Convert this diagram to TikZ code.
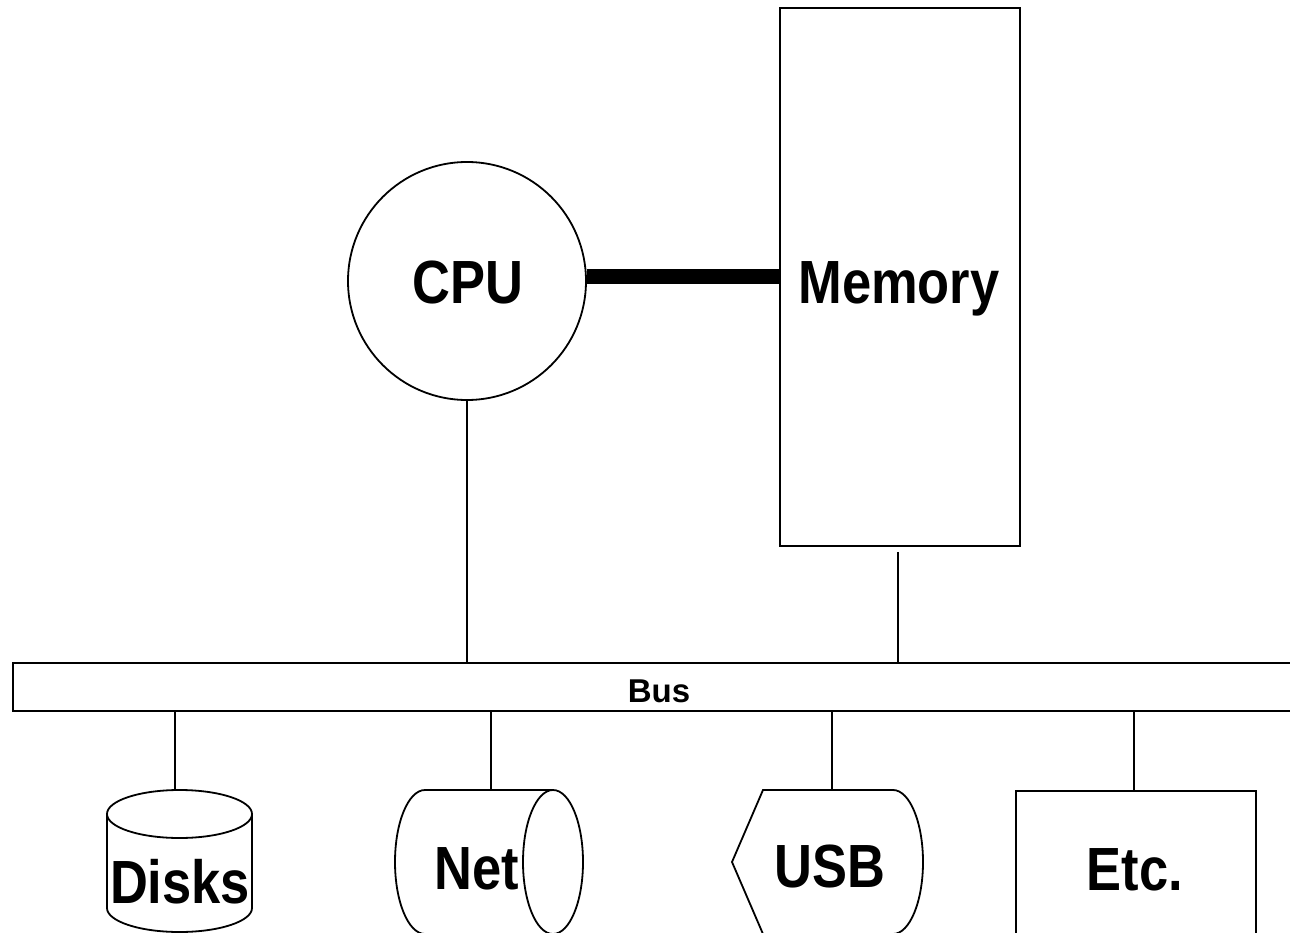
\documentclass[tikz,border=0pt]{standalone}
\usepackage{fontspec}
\newfontfamily\lblfont[FakeStretch=0.86]{Liberation Sans}
\newfontfamily\busfont{Liberation Sans}
\begin{document}
\begin{tikzpicture}[x=1pt,y=-1pt,line width=1.8pt,
  big/.style={font=\lblfont\bfseries\fontsize{61}{70}\selectfont,anchor=base,inner sep=0pt},
  box/.style={draw,rectangle,inner sep=0pt},
  wire/.style={line width=1.8pt}]
\clip (0,0) rectangle (1290,933);
\fill[white] (0,0) rectangle (1290,933);
% CPU and memory
\node[draw,circle,minimum size=238pt,inner sep=0pt] (cpu) at (467,281) {};
\node[box,minimum width=240pt,minimum height=538pt] (mem) at (900,277) {};
\node[big] (cputxt) at (468,304) {CPU};
\node[big] (memtxt) at (899,304) {Memory};
% bus
\node[box,minimum width=1300pt,minimum height=48pt,anchor=north west] (bus) at (12,662) {};
\node[font=\busfont\bfseries\fontsize{33}{38}\selectfont,anchor=base,inner sep=0pt] (bustxt) at (659,702) {Bus};
% Disks (vertical cylinder)
\draw (107,814) -- (107,908) arc[start angle=180,end angle=360,x radius=72.5,y radius=-24] -- (252,814);
\draw (179.5,814) ellipse[x radius=72.5,y radius=24];
\coordinate (disks) at (175,790);
\node[big] (diskstxt) at (180,903) {Disks};
% Net (horizontal cylinder)
\draw (553,790) -- (425,790) arc[start angle=90,end angle=270,x radius=30,y radius=-72] -- (553,934);
\draw (553,862) ellipse[x radius=30,y radius=72];
\coordinate (net) at (491,790);
\node[big] (nettxt) at (477,889) {Net};
% USB (display shape)
\draw (893,790) -- (763,790) -- (732,862) -- (763,934) -- (893,934)
  arc[start angle=270,end angle=450,x radius=30,y radius=-72];
\coordinate (usb) at (832,790);
\node[big] (usbtxt) at (830,887) {USB};
% Etc.
\node[box,minimum width=240pt,minimum height=200pt,anchor=north west] (etc) at (1015,790) {};
\node[big] (etctxt) at (1135,890) {Etc.};
% connectors
\draw[line width=15pt] (cpu.east |- mem.west) -- (mem.west);
\draw[wire] (cpu.south) -- (cpu.south |- bus.north);
\draw[wire] ([yshift=-5pt]mem.south -| 898,0) -- (898,0 |- bus.north);
\draw[wire] (disks |- bus.south) -- (disks);
\draw[wire] (net |- bus.south) -- (net);
\draw[wire] (usb |- bus.south) -- (usb);
\draw[wire] (1134,0 |- bus.south) -- (1134,0 |- etc.north);
\end{tikzpicture}
\end{document}
